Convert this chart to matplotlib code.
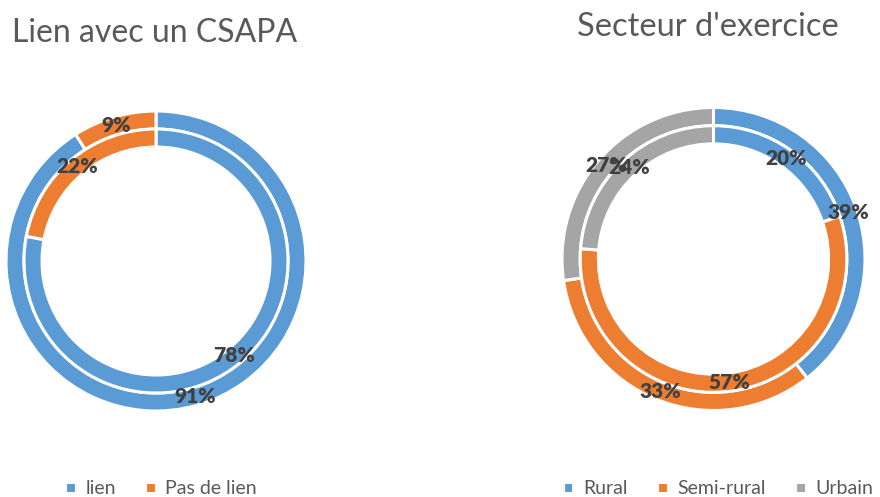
import numpy as np
import matplotlib.pyplot as plt

plt.rcParams['font.family'] = ['Lato', 'DejaVu Sans']

# Lien avec un CSAPA
lien_labels = ["lien", "Pas de lien"]
lien_outer = [91, 9]
lien_inner = [78, 22]

# Secteur d'exercice
secteur_labels = ["Rural", "Semi-rural", "Urbain"]
secteur_outer = [39, 33, 27]
secteur_inner = [20, 57, 24]

colors = ["#5B9BD5", "#ED7D31", "#A5A5A5"]
W, H = 880, 497


def donut(ax, outer, inner, cols):
    rings = []
    for vals, r in [(outer, 1.0), (inner, 0.88)]:
        wedges, _ = ax.pie(vals, radius=r, colors=cols, startangle=90, counterclock=False,
                           wedgeprops=dict(width=0.12, edgecolor="white", linewidth=2.2))
        rmid = r - 0.06
        for w, v in zip(wedges, vals):
            a = np.deg2rad((w.theta1 + w.theta2) / 2)
            ax.text(rmid * np.cos(a), rmid * np.sin(a), f"{v}%", ha="center", va="center",
                    fontsize=15, fontweight="heavy", color="#404040")
        rings.append(wedges)
    ax.set_xlim(-1, 1)
    ax.set_ylim(-1, 1)
    ax.set_aspect("equal")
    ax.axis("off")
    return rings[0]


fig = plt.figure(figsize=(W / 100, H / 100), dpi=100)

ax1 = fig.add_axes([6 / W, (H - 411) / H, 300 / W, 300 / H])
w1 = donut(ax1, lien_outer, lien_inner, colors[:2])
ax2 = fig.add_axes([562 / W, (H - 410.5) / H, 303 / W, 303 / H])
w2 = donut(ax2, secteur_outer, secteur_inner, colors)

fig.text(12 / W, (H - 42) / H, "Lien avec un CSAPA", fontsize=23, color="#595959", va="baseline")
fig.text(577 / W, (H - 36) / H, "Secteur d'exercice", fontsize=23.5, color="#595959", va="baseline")

for wedges, labels, cx in [(w1, lien_labels, 161), (w2, secteur_labels, 718)]:
    fig.legend(wedges, labels, loc="center", bbox_to_anchor=(cx / W, 8 / H), ncol=len(labels),
               frameon=False, fontsize=14, labelcolor="#595959", handlelength=0.55, handleheight=0.55,
               handletextpad=0.5, columnspacing=1.5)

fig.savefig("out.png", dpi=100)
